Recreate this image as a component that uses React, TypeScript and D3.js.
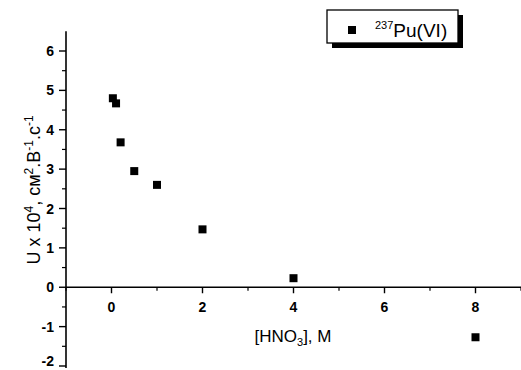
import React from "react";
import * as d3 from "d3";

const hno3 = [0.03, 0.1, 0.2, 0.5, 1, 2, 4, 8];
const uValues = [4.8, 4.67, 3.68, 2.95, 2.6, 1.47, 0.23, -1.27];
const xTicks = [0, 2, 4, 6, 8];
const xMinorTicks = [-1, 1, 3, 5, 7, 9];
const yTicks = [-2, -1, 0, 1, 2, 3, 4, 5, 6];
const yMinorTicks = [-1.5, -0.5, 0.5, 1.5, 2.5, 3.5, 4.5, 5.5];
const legendLabel = "Pu(VI)";
const legendSup = "237";

export default function App() {
  const W = 521, H = 370;
  const x = d3.scaleLinear().domain([-1, 9]).range([66, 521]);
  const y = d3.scaleLinear().domain([-2, 6]).range([366, 51]);
  const font = "'Liberation Sans', Arial, sans-serif";
  const y0 = y(0);
  return (
    <svg width={W} height={H} style={{ position: "absolute", left: 0, top: 0, background: "#fff" }} fontFamily={font}>
      {/* y axis */}
      <line x1={66} x2={66} y1={y(6.5)} y2={y(-2) + 2} stroke="#000" strokeWidth={1.6} />
      {yTicks.map((t) => (
        <g key={"y" + t}>
          <line x1={59} x2={66} y1={y(t)} y2={y(t)} stroke="#000" strokeWidth={1.4} />
          <text x={54} y={Math.min(y(t) + 5, 366)} textAnchor="end" fontSize={14} fontWeight="bold">{t}</text>
        </g>
      ))}
      {yMinorTicks.map((t) => (
        <line key={"ym" + t} x1={62} x2={66} y1={y(t)} y2={y(t)} stroke="#000" strokeWidth={1.2} />
      ))}
      {/* x axis at y=0 */}
      <line x1={66} x2={521} y1={y0} y2={y0} stroke="#000" strokeWidth={1.6} />
      {xTicks.map((t) => (
        <g key={"x" + t}>
          <line x1={x(t)} x2={x(t)} y1={y0} y2={y0 + 6} stroke="#000" strokeWidth={1.4} />
          <text x={x(t)} y={y0 + 25} textAnchor="middle" fontSize={14} fontWeight="bold">{t}</text>
        </g>
      ))}
      {xMinorTicks.map((t) => (
        <line key={"xm" + t} x1={x(t)} x2={x(t)} y1={y0} y2={y0 + 3.5} stroke="#000" strokeWidth={1.2} />
      ))}
      {/* axis titles */}
      <text x={293} y={342} textAnchor="middle" fontSize={17}>
        [HNO<tspan fontSize={11} dy={4}>3</tspan><tspan dy={-4}>], M</tspan>
      </text>
      <text transform={`translate(40,190) rotate(-90)`} textAnchor="middle" fontSize={18}>
        U x 10<tspan fontSize={12} dy={-7}>4</tspan>
        <tspan dy={7}>, см</tspan><tspan fontSize={12} dy={-7}>2</tspan>
        <tspan dy={7}>.B</tspan><tspan fontSize={12} dy={-7}>-1</tspan>
        <tspan dy={7}>.c</tspan><tspan fontSize={12} dy={-7}>-1</tspan>
      </text>
      {/* points */}
      {hno3.map((v, i) => (
        <rect key={i} x={x(v) - 4} y={y(uValues[i]) - 4} width={8} height={8} fill="#000" />
      ))}
      {/* legend */}
      <rect x={332} y={15} width={131} height={33} fill="#000" />
      <rect x={327} y={10} width={131} height={33} fill="#fff" stroke="#000" strokeWidth={1.3} />
      <rect x={348} y={26} width={8} height={8} fill="#000" />
      <text x={375} y={37} fontSize={19}>
        <tspan fontSize={11} dy={-8}>{legendSup}</tspan>
        <tspan dy={8}>{legendLabel}</tspan>
      </text>
    </svg>
  );
}
